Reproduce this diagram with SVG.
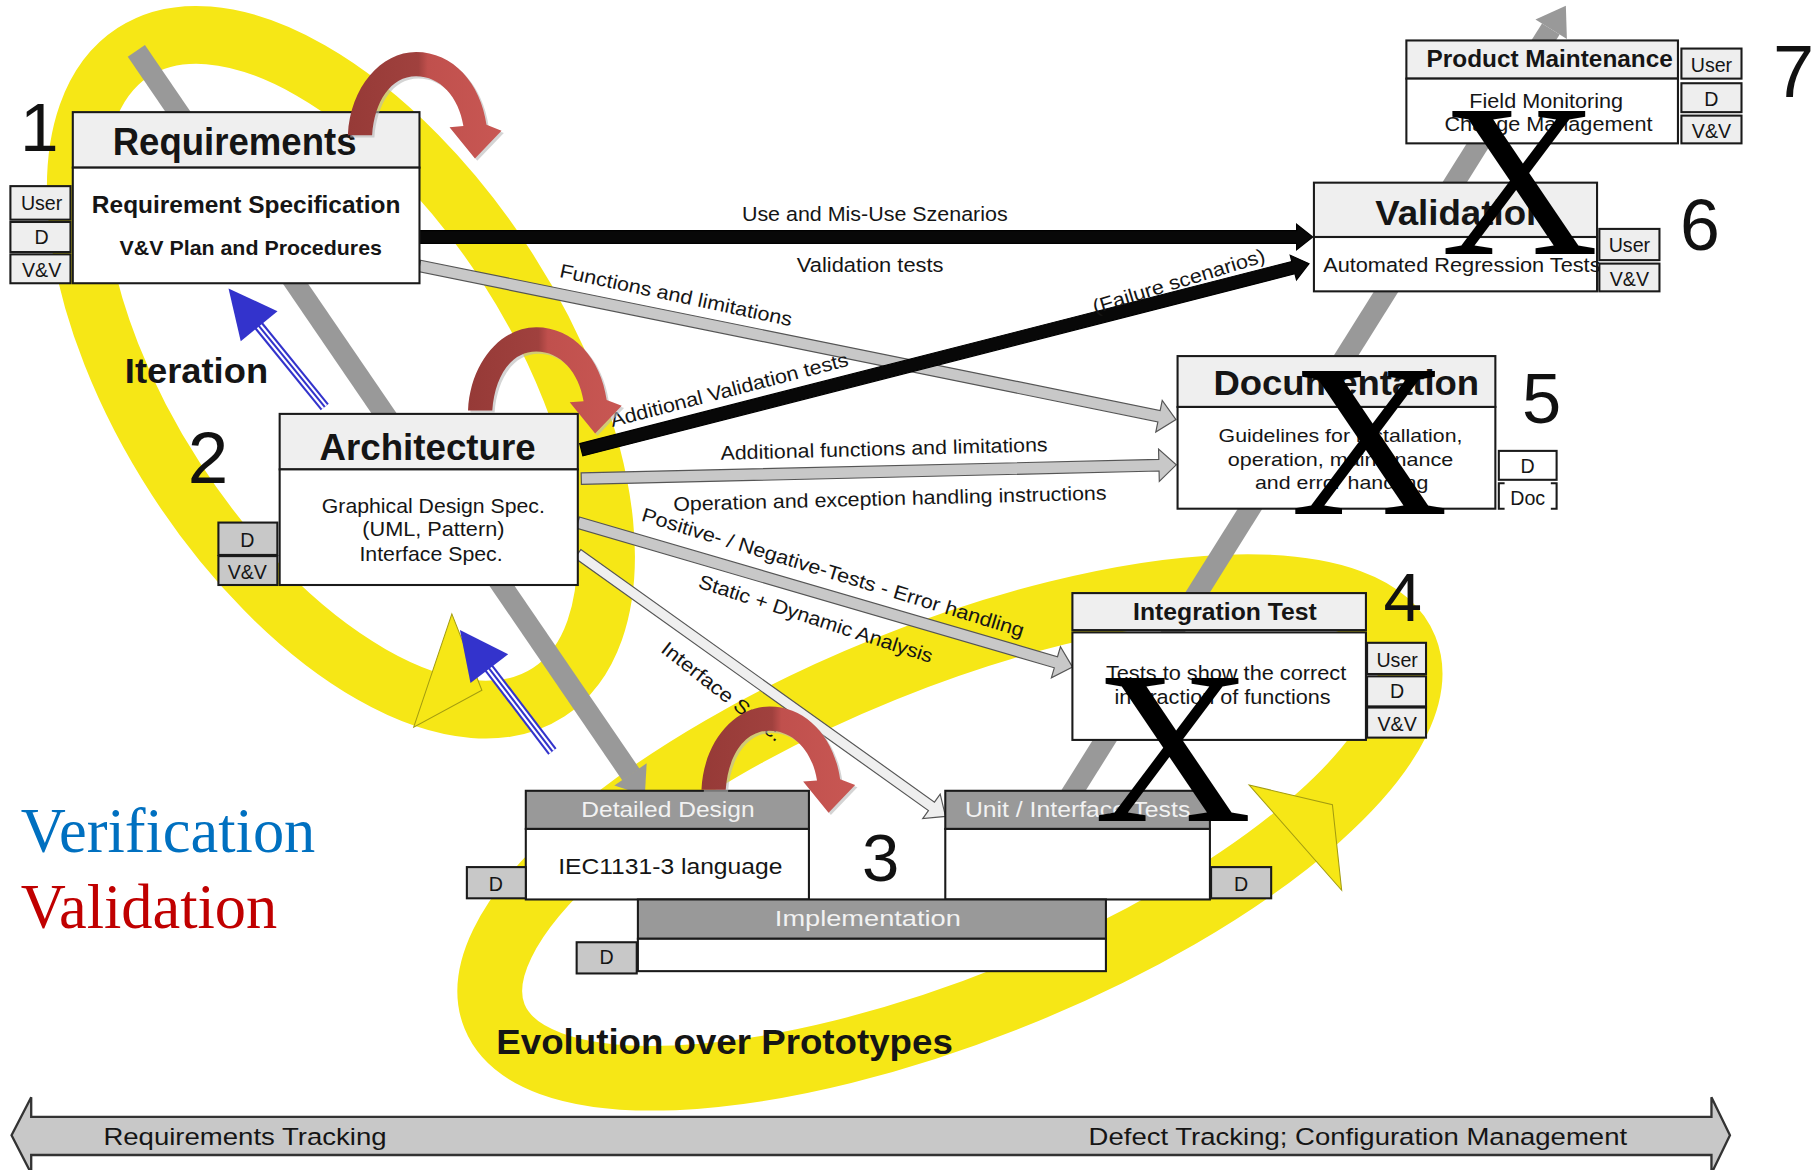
<svg xmlns="http://www.w3.org/2000/svg" xmlns:xlink="http://www.w3.org/1999/xlink" width="1812" height="1170" viewBox="0 0 1812 1170">
<style>
.f{font-family:"Liberation Sans",Arial,sans-serif;fill:#151515}
.b{font-weight:bold}
.c{text-anchor:middle}
.box{fill:#fff;stroke:#1a1a1a;stroke-width:1.8}
.hdr{fill:#efefef;stroke:#1a1a1a;stroke-width:1.8}
.ghdr{fill:#999;stroke:#1a1a1a;stroke-width:1.8}
.tag{fill:#eee;stroke:#1a1a1a;stroke-width:1.8}
.tagd{fill:#c8c8c8;stroke:#1a1a1a;stroke-width:1.8}
.gt{fill:#f2f2f2}
.num{font-family:"Liberation Sans",Arial,sans-serif;fill:#111;text-anchor:middle}
.ring{fill:none;stroke:#f6e716}
.vline{stroke:#999;stroke-width:18;fill:none}
.garr{fill:#c8c8c8;stroke:#555;stroke-width:1}
.barr{fill:#080808;stroke:#000;stroke-width:1}
.bigx{font-family:"Liberation Serif","Times New Roman",serif;font-size:189px;fill:#000;text-anchor:middle}
.lbl{font-size:17px}
</style>
<defs>
<linearGradient id="rg" x1="0" y1="0" x2="1" y2="0">
<stop offset="0" stop-color="#963a37"/>
<stop offset="0.46" stop-color="#a0413e"/>
<stop offset="0.52" stop-color="#c0504d"/>
<stop offset="1" stop-color="#c85753"/>
</linearGradient>
<path id="ra" d="M301,117 C303,75 330,45 360,45 C392,45 416,72 421,108 L434,113 L411,137 L389,110 L401,109 C397,84 381,66 360,66 C338,66 324,88 322,117 Z"/>
<g id="ba">
<line x1="0" y1="0" x2="94" y2="0" stroke="#3333cc" stroke-width="9"/>
<line x1="0" y1="0" x2="94" y2="0" stroke="#fff" stroke-width="5.4"/>
<line x1="0" y1="0" x2="94" y2="0" stroke="#3333cc" stroke-width="1.8"/>
<polygon points="90,-20.5 132,0 90,20.5" fill="#3333cc"/>
</g>
</defs>
<rect width="1812" height="1170" fill="#fff"/>
<g transform="scale(1.15561,1.15613)">

<g id="background-loops">
<ellipse class="ring" cx="295" cy="322" rx="330" ry="170" transform="rotate(57 295 322)" stroke-width="50"/>
<ellipse class="ring" cx="822" cy="720" rx="425" ry="152" transform="rotate(-22 822 720)" stroke-width="56"/>
<polygon points="358,629 391,531 417,597" fill="#f6e716" stroke="#a39c10" stroke-width="0.9"/>
<polygon points="1081,679 1153,696 1161,770" fill="#f6e716" stroke="#a39c10" stroke-width="0.9"/>
</g>

<g id="process-line">
<line class="vline" x1="118" y1="44" x2="546" y2="670"/>
<polygon points="558,688 531.6,679.4 559.6,660.2" fill="#999"/>
<line class="vline" x1="925" y1="690" x2="1342" y2="25"/>
<polygon points="1355,5 1355.9,33.8 1328.7,16.8" fill="#999"/>
</g>

<g id="connectors">
<polygon class="barr" transform="translate(358,205)" points="0,-5.5 764,-5.5 764,-11 778,0 764,11 764,5.5 0,5.5"/>
<polygon class="garr" transform="translate(363,230) rotate(11.48)" points="0,-5 653,-5 653,-14 668,0 653,14 653,5 0,5"/>
<polygon class="barr" transform="translate(503,389) rotate(-14.34)" points="0,-5.5 636,-5.5 636,-11 650,0 636,11 636,5.5 0,5.5"/>
<polygon class="garr" transform="translate(503,414) rotate(-1.33)" points="0,-5 500,-5 500,-14 515,0 500,14 500,5 0,5"/>
<polygon class="garr" transform="translate(500,452) rotate(16.28)" points="0,-5 431,-5 431,-14 446,0 431,14 431,5 0,5"/>
<polygon class="garr" style="fill:#efefef" transform="translate(500,479) rotate(35.52)" points="0,-4.5 376,-4.5 376,-13 391,0 376,13 376,4.5 0,4.5"/>
</g>

<g id="connector-labels">
<text class="f c lbl" x="757" y="191" textLength="230" lengthAdjust="spacingAndGlyphs">Use and Mis-Use Szenarios</text>
<text class="f c lbl" x="753" y="235" textLength="127" lengthAdjust="spacingAndGlyphs">Validation tests</text>
<text class="f c lbl" transform="translate(585,255) rotate(12)" y="6" textLength="205" lengthAdjust="spacingAndGlyphs">Functions and limitations</text>
<text class="f c lbl" transform="translate(631,337) rotate(-14.5)" y="6" textLength="212" lengthAdjust="spacingAndGlyphs">Additional Validation tests</text>
<text class="f c lbl" transform="translate(1020,243) rotate(-17)" y="6" textLength="155" lengthAdjust="spacingAndGlyphs">(Failure scenarios)</text>
<text class="f c lbl" transform="translate(765,388) rotate(-1.5)" y="6" textLength="283" lengthAdjust="spacingAndGlyphs">Additional functions and limitations</text>
<text class="f c lbl" transform="translate(770,431) rotate(-1.5)" y="6" textLength="375" lengthAdjust="spacingAndGlyphs">Operation and exception handling instructions</text>
<text class="f c lbl" transform="translate(721,495) rotate(17)" y="6" textLength="345" lengthAdjust="spacingAndGlyphs">Positive- / Negative-Tests - Error handling</text>
<text class="f c lbl" transform="translate(706,535) rotate(18)" y="6" textLength="212" lengthAdjust="spacingAndGlyphs">Static + Dynamic Analysis</text>
<text class="f c lbl" transform="translate(625,598) rotate(38)" y="6" textLength="128" lengthAdjust="spacingAndGlyphs">Interface Spec.</text>
</g>

<g id="node-requirements">
<rect class="hdr" x="63" y="97" width="300" height="48"/>
<rect class="box" x="63" y="145" width="300" height="100"/>
<text class="f b c" x="203" y="134" font-size="33" textLength="211" lengthAdjust="spacingAndGlyphs">Requirements</text>
<text class="f b c" x="213" y="184" font-size="21" textLength="267" lengthAdjust="spacingAndGlyphs">Requirement Specification</text>
<text class="f b c" x="217" y="221" font-size="18" textLength="227" lengthAdjust="spacingAndGlyphs">V&amp;V Plan and Procedures</text>
<rect class="tag" x="9" y="161" width="52" height="29"/>
<rect class="tag" x="9" y="192" width="52" height="26"/>
<rect class="tag" x="9" y="220" width="52" height="25"/>
<text class="f c" x="36" y="182" font-size="17">User</text>
<text class="f c" x="36" y="211" font-size="17">D</text>
<text class="f c" x="36" y="240" font-size="17">V&amp;V</text>
<text class="num" x="34" y="131" font-size="60">1</text>
</g>

<g id="node-architecture">
<rect class="hdr" x="242" y="358" width="258" height="48"/>
<rect class="box" x="242" y="406" width="258" height="100"/>
<text class="f b c" x="370" y="398" font-size="32" textLength="187" lengthAdjust="spacingAndGlyphs">Architecture</text>
<text class="f c" x="375" y="444" font-size="18" textLength="193" lengthAdjust="spacingAndGlyphs">Graphical Design Spec.</text>
<text class="f c" x="375" y="464" font-size="18" textLength="123" lengthAdjust="spacingAndGlyphs">(UML, Pattern)</text>
<text class="f c" x="373" y="485" font-size="18" textLength="124" lengthAdjust="spacingAndGlyphs">Interface Spec.</text>
<rect class="tagd" x="189" y="452" width="51" height="28"/>
<rect class="tagd" x="189" y="481" width="51" height="25"/>
<text class="f c" x="214" y="473" font-size="17">D</text>
<text class="f c" x="214" y="501" font-size="17">V&amp;V</text>
<text class="num" x="180" y="418" font-size="63">2</text>
</g>

<g id="node-detailed-design">
<rect class="ghdr" x="455" y="684" width="245" height="33"/>
<rect class="box" x="455" y="717" width="245" height="61"/>
<text class="f c gt" x="578" y="707" font-size="19" textLength="150" lengthAdjust="spacingAndGlyphs">Detailed Design</text>
<text class="f c" x="580" y="756" font-size="19" textLength="194" lengthAdjust="spacingAndGlyphs">IEC1131-3 language</text>
<rect class="tagd" x="404" y="750" width="51" height="27"/>
<text class="f c" x="429" y="771" font-size="17">D</text>
<text class="num" x="762" y="762" font-size="58">3</text>
</g>

<g id="node-unit-tests">
<rect class="ghdr" x="818" y="684" width="229" height="33"/>
<rect class="box" x="818" y="717" width="229" height="61"/>
<text class="f gt" x="835" y="707" font-size="19" textLength="195" lengthAdjust="spacingAndGlyphs">Unit / Interface Tests</text>
<rect class="tagd" x="1048" y="750" width="52" height="27"/>
<text class="f c" x="1074" y="771" font-size="17">D</text>
</g>

<g id="node-implementation">
<rect class="ghdr" x="552" y="778" width="405" height="34"/>
<rect class="box" x="552" y="812" width="405" height="28"/>
<text class="f c gt" x="751" y="801" font-size="19" textLength="161" lengthAdjust="spacingAndGlyphs">Implementation</text>
<rect class="tagd" x="499" y="815" width="52" height="27"/>
<text class="f c" x="525" y="834" font-size="17">D</text>
</g>

<g id="node-integration-test">
<rect class="hdr" x="928" y="513" width="254" height="32"/>
<rect class="box" x="928" y="547" width="254" height="93"/>
<text class="f b c" x="1060" y="536" font-size="20" textLength="159" lengthAdjust="spacingAndGlyphs">Integration Test</text>
<text class="f c" x="1061" y="588" font-size="17" textLength="208" lengthAdjust="spacingAndGlyphs">Tests to show the correct</text>
<text class="f c" x="1058" y="609" font-size="17" textLength="187" lengthAdjust="spacingAndGlyphs">interaction of functions</text>
<rect class="tag" x="1183" y="556" width="51" height="27"/>
<rect class="tag" x="1183" y="585" width="51" height="26"/>
<rect class="tag" x="1183" y="612" width="51" height="26"/>
<text class="f c" x="1209" y="577" font-size="17">User</text>
<text class="f c" x="1209" y="604" font-size="17">D</text>
<text class="f c" x="1209" y="632" font-size="17">V&amp;V</text>
<text class="num" x="1214" y="537" font-size="60">4</text>
</g>

<g id="node-documentation">
<rect class="hdr" x="1019" y="308" width="275" height="44"/>
<rect class="box" x="1019" y="352" width="275" height="88"/>
<text class="f b c" x="1165" y="342" font-size="30" textLength="230" lengthAdjust="spacingAndGlyphs">Documentation</text>
<text class="f c" x="1160" y="382" font-size="16.5" textLength="211" lengthAdjust="spacingAndGlyphs">Guidelines for installation,</text>
<text class="f c" x="1160" y="403" font-size="16.5" textLength="195" lengthAdjust="spacingAndGlyphs">operation, maintenance</text>
<text class="f c" x="1161" y="423" font-size="16.5" textLength="150" lengthAdjust="spacingAndGlyphs">and error handling</text>
<rect class="box" x="1297" y="390" width="50" height="25"/>
<path d="M1302,418 H1297 V440 H1302 M1342,418 H1347 V440 H1342" fill="none" stroke="#1a1a1a" stroke-width="1.8"/>
<text class="f c" x="1322" y="409" font-size="17">D</text>
<text class="f c" x="1322" y="437" font-size="17">Doc</text>
<text class="num" x="1334" y="366" font-size="61">5</text>
</g>

<g id="node-validation">
<rect class="hdr" x="1137" y="158" width="245" height="47"/>
<rect class="box" x="1137" y="205" width="245" height="47"/>
<text class="f b c" x="1265" y="195" font-size="30" textLength="150" lengthAdjust="spacingAndGlyphs">Validation</text>
<text class="f" x="1145" y="235" font-size="17" textLength="240" lengthAdjust="spacingAndGlyphs">Automated Regression Tests</text>
<rect class="tag" x="1384" y="198" width="52" height="27"/>
<rect class="tag" x="1384" y="228" width="52" height="24"/>
<text class="f c" x="1410" y="218" font-size="17">User</text>
<text class="f c" x="1410" y="247" font-size="17">V&amp;V</text>
<text class="num" x="1471" y="216" font-size="62">6</text>
</g>

<g id="node-product-maintenance">
<rect class="hdr" x="1217" y="35" width="235" height="33"/>
<rect class="box" x="1217" y="68" width="235" height="56"/>
<text class="f b c" x="1341" y="58" font-size="20" textLength="213" lengthAdjust="spacingAndGlyphs">Product Maintenance</text>
<text class="f c" x="1338" y="93" font-size="17" textLength="133" lengthAdjust="spacingAndGlyphs">Field Monitoring</text>
<text class="f c" x="1340" y="113" font-size="17" textLength="180" lengthAdjust="spacingAndGlyphs">Change Management</text>
<rect class="tag" x="1455" y="42" width="52" height="26"/>
<rect class="tag" x="1455" y="72" width="52" height="25"/>
<rect class="tag" x="1455" y="100" width="52" height="24"/>
<text class="f c" x="1481" y="62" font-size="17">User</text>
<text class="f c" x="1481" y="92" font-size="17">D</text>
<text class="f c" x="1481" y="119" font-size="17">V&amp;V</text>
<text class="num" x="1552" y="84" font-size="64">7</text>
</g>

<g id="iteration-arrows">
<use xlink:href="#ra" transform="translate(2,2)" fill="#b8b8b8" opacity="0.6"/>
<use xlink:href="#ra" fill="url(#rg)"/>
<use xlink:href="#ra" transform="translate(106,240)" fill="#b8b8b8" opacity="0.6"/>
<use xlink:href="#ra" transform="translate(104,238)" fill="url(#rg)"/>
<use xlink:href="#ra" transform="translate(308,568)" fill="#b8b8b8" opacity="0.6"/>
<use xlink:href="#ra" transform="translate(306,566)" fill="url(#rg)"/>
<use xlink:href="#ba" transform="translate(281,352) rotate(-129.1)"/>
<use xlink:href="#ba" transform="translate(478,650) rotate(-127.3)"/>
</g>

<g id="strike-marks">
<text class="bigx" x="1315" y="220">X</text>
<text class="bigx" x="1185" y="445">X</text>
<text class="bigx" x="1015" y="710">X</text>
</g>

<g id="captions">
<text class="f b c" x="170" y="331" font-size="30" textLength="124" lengthAdjust="spacingAndGlyphs">Iteration</text>
<text class="f b c" x="627" y="912" font-size="30" textLength="395" lengthAdjust="spacingAndGlyphs">Evolution over Prototypes</text>
<text x="18" y="737" font-family="Liberation Serif,'Times New Roman',serif" font-size="54" fill="#0070c0">Verification</text>
<text x="18" y="803" font-family="Liberation Serif,'Times New Roman',serif" font-size="54" fill="#c00000">Validation</text>
</g>

<g id="tracking-bar">
<polygon points="10,982 27,949 27,966 1481,966 1481,949 1497,982 1481,1015 1481,999 27,999 27,1015" fill="#c8c8c8" stroke="#333" stroke-width="2"/>
<text class="f c" x="212" y="990" font-size="21" textLength="245" lengthAdjust="spacingAndGlyphs">Requirements Tracking</text>
<text class="f c" x="1175" y="990" font-size="21" textLength="466" lengthAdjust="spacingAndGlyphs">Defect Tracking; Configuration Management</text>
</g>
</g>
</svg>
